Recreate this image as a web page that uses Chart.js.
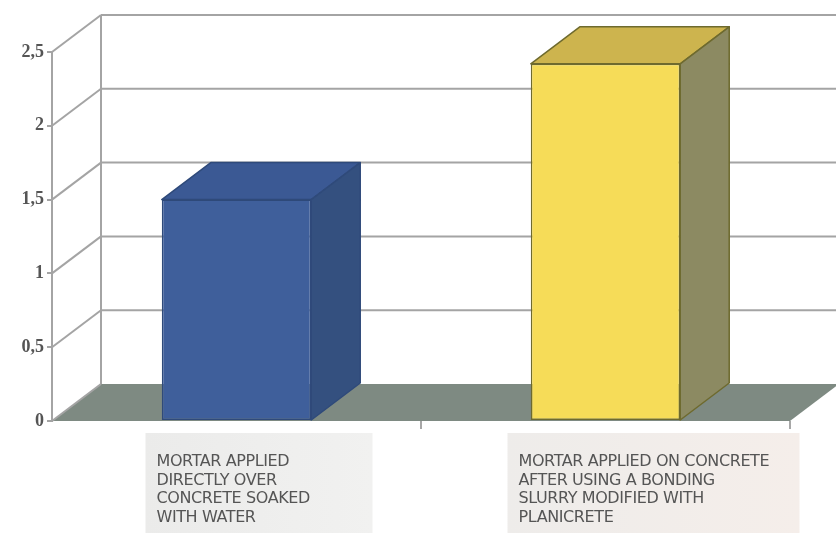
<!DOCTYPE html>
<html>
<head>
<meta charset="utf-8">
<script src="https://cdn.jsdelivr.net/npm/chart.js@4/dist/chart.umd.min.js"></script>
<style>
  html, body { margin: 0; padding: 0; background: #ffffff; }
  #wrap { width: 836px; height: 533px; position: relative; overflow: hidden; }
</style>
</head>
<body>
<div id="wrap"><canvas id="c" width="836" height="533"></canvas></div>
<script>
// Categories (each label is drawn as several lines)
const categories = [
  ['MORTAR APPLIED', 'DIRECTLY OVER', 'CONCRETE SOAKED', 'WITH WATER'],
  ['MORTAR APPLIED ON CONCRETE', 'AFTER USING A BONDING', 'SLURRY MODIFIED WITH', 'PLANICRETE']
];
// Bond strength values
const values = [1.5, 2.42];
// Y-axis tick values and their printed labels
const yTicks = [0, 0.5, 1, 1.5, 2, 2.5];
const yTickLabels = ['0', '0,5', '1', '1,5', '2', '2,5'];

// Colours for the three visible faces of each bar
const faceFront = ['#3f5f9b', '#f6dc58'];
const faceTop   = ['#3b5994', '#cdb44e'];
const faceSide  = ['#34507f', '#8c8a62'];
const faceEdge  = ['#2f4a7a', '#6e6a2e'];

// Depth offset of the 3D box
const DX = 49, DY = -37;

const gridColor = '#a4a4a4';

const box3d = {
  id: 'box3d',
  beforeDatasetsDraw(chart) {
    const { ctx, chartArea: a, scales: { y } } = chart;
    ctx.save();
    // Floor
    const y0 = y.getPixelForValue(0);
    ctx.fillStyle = '#7e8a82';
    ctx.beginPath();
    ctx.moveTo(a.left, y0);
    ctx.lineTo(a.right, y0);
    ctx.lineTo(a.right + DX, y0 + DY);
    ctx.lineTo(a.left + DX, y0 + DY);
    ctx.closePath();
    ctx.fill();

    ctx.strokeStyle = gridColor;
    ctx.lineWidth = 2;
    // Back wall gridlines and side-wall diagonals
    yTicks.forEach(v => {
      const py = y.getPixelForValue(v);
      if (v > 0) {
        ctx.beginPath();
        ctx.moveTo(a.left + DX, py + DY);
        ctx.lineTo(chart.width + 10, py + DY);
        ctx.stroke();
      }
      ctx.beginPath();
      ctx.moveTo(a.left, py);
      ctx.lineTo(a.left + DX, py + DY);
      ctx.stroke();
    });
    // Back vertical axis
    ctx.beginPath();
    ctx.moveTo(a.left + DX, y.getPixelForValue(2.5) + DY);
    ctx.lineTo(a.left + DX, y0 + DY);
    ctx.stroke();

    // Category boundary ticks on the floor edge
    const step = (a.right - a.left) / categories.length;
    ctx.strokeStyle = '#8a8a8a';
    ctx.lineWidth = 1.5;
    for (let i = 1; i <= categories.length; i++) {
      const px = a.left + step * i;
      ctx.beginPath();
      ctx.moveTo(px, y0);
      ctx.lineTo(px, y0 + 8);
      ctx.stroke();
    }
    ctx.restore();
  },
  afterDatasetsDraw(chart) {
    const { ctx } = chart;
    const meta = chart.getDatasetMeta(0);
    ctx.save();
    ctx.lineJoin = 'round';
    meta.data.forEach((bar, i) => {
      const { x, y, width, base } = bar.getProps(['x', 'y', 'width', 'base'], true);
      const l = x - width / 2, r = x + width / 2;
      ctx.strokeStyle = faceEdge[i];
      ctx.lineWidth = 1.5;
      // top face
      ctx.fillStyle = faceTop[i];
      ctx.beginPath();
      ctx.moveTo(l, y); ctx.lineTo(r, y);
      ctx.lineTo(r + DX, y + DY); ctx.lineTo(l + DX, y + DY);
      ctx.closePath(); ctx.fill(); ctx.stroke();
      // side face
      ctx.fillStyle = faceSide[i];
      ctx.beginPath();
      ctx.moveTo(r, y); ctx.lineTo(r + DX, y + DY);
      ctx.lineTo(r + DX, base + DY); ctx.lineTo(r, base);
      ctx.closePath(); ctx.fill(); ctx.stroke();
    });
    ctx.restore();
  },
  afterDraw(chart) {
    // Category captions in shaded boxes below the floor
    const { ctx, scales: { x } } = chart;
    const boxOffset = [-91, -98];
    const boxWidth = [227, 292];
    const boxFill = ['#ebebea', '#eeecea'];
    ctx.save();
    categories.forEach((lines, i) => {
      const cx = x.getPixelForValue(i);
      const bx = cx + boxOffset[i];
      const g = ctx.createLinearGradient(bx, 0, bx + boxWidth[i], 0);
      g.addColorStop(0, boxFill[i]);
      g.addColorStop(1, i === 1 ? '#f5eeea' : '#f1f1f0');
      ctx.fillStyle = g;
      ctx.fillRect(bx, 433, boxWidth[i], 110);
      ctx.fillStyle = '#555555';
      ctx.font = '16px "DejaVu Sans", sans-serif';
      if ('letterSpacing' in ctx) ctx.letterSpacing = '-0.4px';
      ctx.textBaseline = 'middle';
      ctx.textAlign = 'left';
      lines.forEach((t, k) => {
        ctx.fillText(t, bx + 11, 462 + k * 18.5);
      });
    });
    ctx.restore();
  }
};

new Chart(document.getElementById('c'), {
  type: 'bar',
  data: {
    labels: categories,
    datasets: [{
      data: values,
      backgroundColor: faceFront,
      borderColor: faceEdge,
      borderWidth: 1.5,
      borderSkipped: false,
      categoryPercentage: 1,
      barPercentage: 0.405
    }]
  },
  options: {
    responsive: false,
    animation: false,
    events: [],
    layout: { padding: { top: 52, right: 46, bottom: 112, left: 0 } },
    plugins: { legend: { display: false }, tooltip: { enabled: false } },
    scales: {
      x: { display: false },
      y: {
        min: 0,
        max: 2.5,
        afterFit(scale) { scale.width = 52; },
        afterBuildTicks(scale) { scale.ticks = yTicks.map(v => ({ value: v })); },
        ticks: {
          padding: 3,
          color: '#555555',
          font: { family: '"Liberation Serif", "Times New Roman", serif', size: 18, weight: 'bold' },
          callback: (v) => yTickLabels[yTicks.indexOf(v)]
        },
        grid: { drawOnChartArea: false, drawTicks: true, tickLength: 5, color: gridColor, lineWidth: 2 },
        border: { display: true, color: gridColor, width: 2 }
      }
    }
  },
  plugins: [box3d]
});
</script>
</body>
</html>
